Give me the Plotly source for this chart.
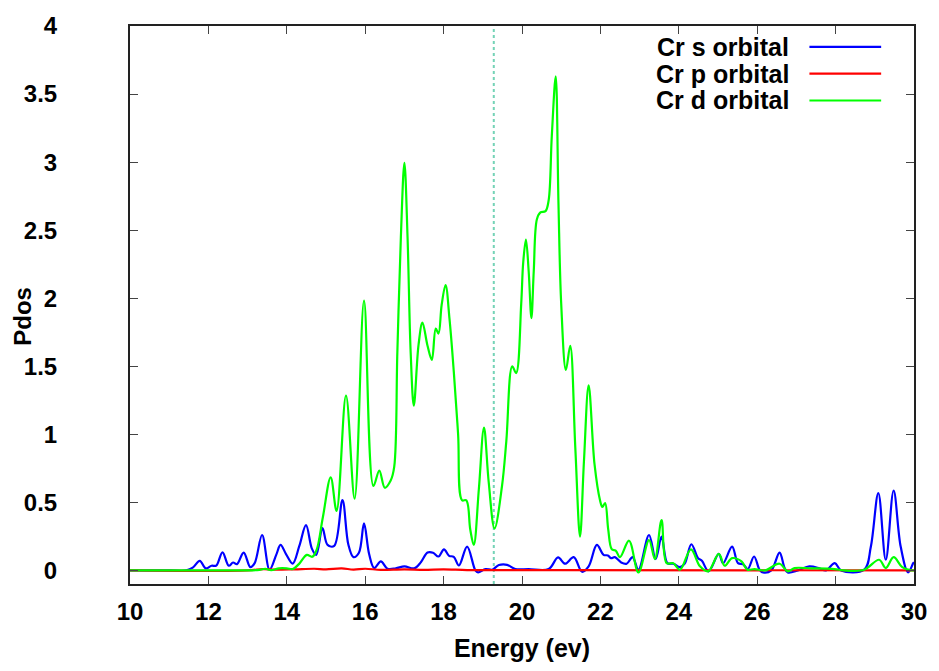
import plotly.graph_objects as go

# ---------------- data ----------------
series_names = ["Cr s orbital", "Cr p orbital", "Cr d orbital"]
series_colors = ["#0000ff", "#ff0000", "#00ff00"]

s_energy = [10.0, 11.0, 11.44, 11.6, 11.78, 11.93, 12.08, 12.2, 12.36, 12.52, 12.63, 12.73, 12.9,
            13.07, 13.18, 13.37, 13.56, 13.73, 13.84, 13.98, 14.15, 14.32, 14.49, 14.64, 14.75,
            14.91, 15.04, 15.21, 15.42, 15.57, 15.7, 15.84, 15.97, 16.1, 16.23, 16.4, 16.57,
            16.78, 17.0, 17.25, 17.42, 17.59, 17.73, 17.87, 18.01, 18.14, 18.26, 18.39, 18.6,
            18.81, 18.88, 19.07, 19.24, 19.41, 19.62, 19.83, 20.17, 20.68, 20.92, 21.1, 21.32,
            21.53, 21.7, 21.91, 22.08, 22.19, 22.27, 22.37, 22.53, 22.67, 22.82, 22.97, 23.24,
            23.41, 23.56, 23.71, 23.86, 24.03, 24.15, 24.32, 24.49, 24.59, 24.76, 25.02, 25.13,
            25.36, 25.51, 25.64, 25.76, 25.92, 26.06, 26.15, 26.36, 26.57, 26.7, 26.78, 27.04,
            27.33, 27.59, 27.75, 27.98, 28.14, 28.73, 28.9, 29.09, 29.28, 29.48, 29.66, 29.85,
            29.98, 30.0]
s_pdos = [0.0, 0.0, 0.0, 0.02, 0.07, 0.015, 0.034, 0.035, 0.133, 0.034, 0.058, 0.046, 0.131,
          0.024, 0.053, 0.26, 0.005, 0.114, 0.187, 0.12, 0.05, 0.18, 0.333, 0.16, 0.114,
          0.31, 0.187, 0.18, 0.517, 0.19, 0.097, 0.13, 0.345, 0.12, 0.017, 0.066, 0.012,
          0.015, 0.03, 0.015, 0.06, 0.131, 0.13, 0.102, 0.155, 0.107, 0.1, 0.036, 0.175,
          0.0, -0.015, 0.01, 0.005, 0.039, 0.041, 0.01, 0.01, 0.01, 0.095, 0.049, 0.097,
          -0.01, 0.03, 0.187, 0.114, 0.11, 0.09, 0.097, 0.058, 0.049, 0.097, 0.005, 0.26,
          0.083, 0.248, 0.053, 0.049, 0.024, 0.049, 0.192, 0.09, 0.07, -0.007, 0.121, 0.053,
          0.175, 0.053, 0.045, 0.01, 0.102, 0.005, -0.015, 0.0, 0.131, 0.017, -0.015, 0.0,
          0.03, 0.015, 0.0, 0.053, 0.0, 0.005, 0.175, 0.568, 0.078, 0.587, 0.175, -0.015,
          0.053, 0.06]

p_energy = [10.0, 13.0, 13.4, 13.7, 14.2, 14.7, 15.0, 15.4, 15.7, 16.0, 16.4, 17.0, 17.5,
            18.0, 18.6, 19.5, 21.0, 30.0]
p_pdos = [0.0, 0.0, 0.01, 0.005, 0.008, 0.012, 0.008, 0.015, 0.006, 0.012, 0.004, 0.008,
          0.004, 0.008, 0.002, 0.002, 0.002, 0.0]

d_energy = [10.0, 11.0, 12.0, 13.0, 13.3, 13.45, 13.6, 13.8, 14.0, 14.15, 14.32, 14.51, 14.65,
            14.76, 14.92, 15.12, 15.27, 15.51, 15.73, 15.97, 16.21, 16.36, 16.5, 16.65, 16.74,
            16.82, 16.91, 17.0, 17.08, 17.16, 17.24, 17.36, 17.46, 17.59, 17.7, 17.8, 17.87,
            17.95, 18.05, 18.15, 18.26, 18.37, 18.47, 18.58, 18.68, 18.77, 18.9, 19.03, 19.15,
            19.3, 19.49, 19.6, 19.75, 19.85, 19.98, 20.03, 20.1, 20.17, 20.24, 20.3, 20.38,
            20.47, 20.6, 20.68, 20.76, 20.86, 20.93, 21.0, 21.12, 21.23, 21.36, 21.48, 21.58,
            21.7, 21.85, 21.99, 22.05, 22.12, 22.2, 22.29, 22.39, 22.5, 22.73, 22.97, 23.24,
            23.39, 23.56, 23.69, 23.86, 24.03, 24.31, 24.54, 24.75, 25.02, 25.17, 25.36, 25.6,
            25.75, 25.93, 26.2, 26.57, 26.78, 26.95, 27.37, 27.97, 28.22, 28.73, 29.11, 29.28,
            29.48, 29.7, 29.92, 30.0]
d_pdos = [0.0, 0.0, 0.0, 0.0, 0.004, 0.012, 0.002, 0.015, 0.015, 0.01, 0.05, 0.114, 0.1,
          0.15, 0.39, 0.684, 0.437, 1.285, 0.527, 1.983, 0.62, 0.733, 0.607, 0.66, 0.76,
          1.6, 2.45, 2.995, 2.45, 1.6, 1.21, 1.655, 1.82, 1.65, 1.546, 1.777, 1.74,
          1.95, 2.097, 1.85, 1.46, 1.0, 0.515, 0.515, 0.3, 0.187, 0.6, 1.05, 0.65,
          0.308, 0.62, 0.95, 1.5, 1.45, 1.96, 2.26, 2.43, 2.2, 1.854, 2.2, 2.58,
          2.63, 2.64, 2.72, 3.19, 3.63, 2.7, 1.96, 1.473, 1.65, 0.9, 0.248, 0.8,
          1.36, 0.78, 0.515, 0.466, 0.495, 0.3, 0.155, 0.146, 0.097, 0.218, -0.015, 0.223,
          0.083, 0.369, 0.053, 0.053, 0.005, 0.155, 0.03, -0.007, 0.121, 0.034, 0.09, 0.066,
          0.005, 0.01, 0.0, 0.049, -0.007, 0.017, 0.015, 0.01, 0.0, 0.005, 0.078, 0.017,
          0.097, 0.024, 0.0, 0.0]

fermi_energy = 19.28
x_ticks = [10, 12, 14, 16, 18, 20, 22, 24, 26, 28, 30]
y_ticks = [0, 0.5, 1, 1.5, 2, 2.5, 3, 3.5, 4]
y_tick_text = ["0", "0.5", "1", "1.5", "2", "2.5", "3", "3.5", "4"]

# ---------------- figure ----------------
FONT = "Liberation Sans, Arial, sans-serif"
fig = go.Figure()
all_x = [s_energy, p_energy, d_energy]
all_y = [s_pdos, p_pdos, d_pdos]
for xs, ys, name, col in zip(all_x, all_y, series_names, series_colors):
    fig.add_trace(go.Scatter(x=xs, y=ys, mode="lines", name=name,
                             line=dict(color=col, width=2.2, shape="spline", smoothing=1.0),
                             showlegend=False))

fig.add_vline(x=fermi_energy, line=dict(color="#74d3b6", width=2, dash="dot"), layer="below")

# gnuplot-style legend (text right-aligned, sample line to the right)
leg_y = [0.9626, 0.9146, 0.8665]
for name, col, yy in zip(series_names, series_colors, leg_y):
    fig.add_annotation(x=0.8425, y=yy, xref="paper", yref="paper", text=name, showarrow=False,
                       xanchor="right", yanchor="middle",
                       font=dict(family=FONT, size=25, color="black", weight="bold"))
    fig.add_shape(type="line", xref="paper", yref="paper", x0=0.8666, x1=0.9581, y0=yy, y1=yy,
                  line=dict(color=col, width=2.2))

fig.add_annotation(x=-0.137, y=0.48, xref="paper", yref="paper", text="Pdos", showarrow=False,
                   textangle=-90, xanchor="center", yanchor="middle",
                   font=dict(family=FONT, size=24, color="black", weight="bold"))

axis_common = dict(showgrid=False, zeroline=False, showline=True, linecolor="#222222",
                   linewidth=2, mirror="ticks", ticks="inside", ticklen=8, tickwidth=1.2,
                   tickcolor="#444444",
                   tickfont=dict(family=FONT, size=24, color="black", weight="bold"))

fig.update_layout(
    width=939, height=671,
    margin=dict(l=130, r=22, t=22, b=87),
    paper_bgcolor="white", plot_bgcolor="white",
    xaxis=dict(range=[10, 30], tickvals=x_ticks, ticklabelstandoff=5,
               title=dict(text="Energy (ev)", standoff=16,
                          font=dict(family=FONT, size=25, color="black", weight="bold")),
               **axis_common),
    yaxis=dict(range=[-0.1, 4], tickvals=y_ticks, ticktext=y_tick_text, ticklabelstandoff=66,
               **axis_common),
)

fig.write_html("out.html")
